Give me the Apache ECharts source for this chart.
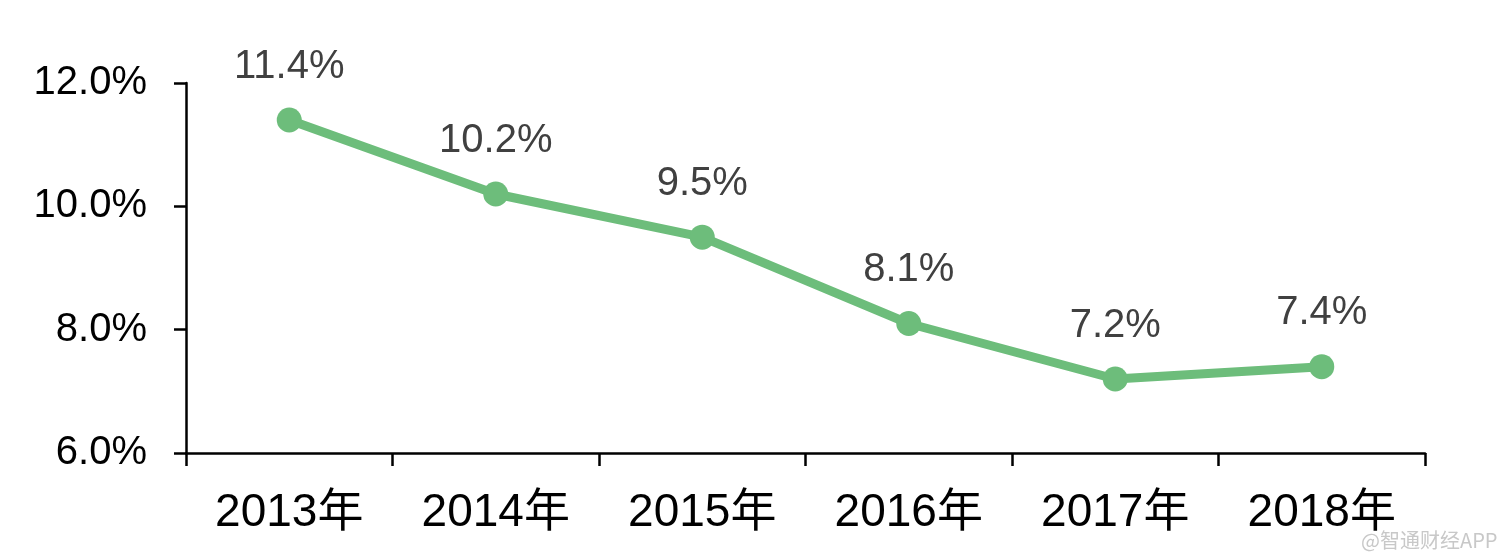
<!DOCTYPE html>
<html>
<head>
<meta charset="utf-8">
<script src="https://cdn.jsdelivr.net/npm/echarts@6/dist/echarts.min.js"></script>
<style>
html,body{margin:0;padding:0;background:#fff;}
#chart{width:1510px;height:559px;}
</style>
</head>
<body>
<div id="chart"></div>
<script>
const categories = ['2013年','2014年','2015年','2016年','2017年','2018年'];
const values = [11.4, 10.2, 9.5, 8.1, 7.2, 7.4];
const yTicks = [6, 8, 10, 12];
const watermark = '@智通财经APP';

const FONT = '"Liberation Sans", Arial, "Noto Sans CJK SC", sans-serif';
const chart = echarts.init(document.getElementById('chart'), null, {renderer: 'canvas'});
chart.setOption({
  animation: false,
  backgroundColor: '#ffffff',
  grid: {left: 186, right: 85, top: 83, bottom: 106, containLabel: false},
  xAxis: {
    type: 'category',
    data: categories,
    boundaryGap: true,
    axisLine: {lineStyle: {color: '#000', width: 2.5}},
    axisTick: {show: true, length: 13, lineStyle: {color: '#000', width: 2.5}},
    axisLabel: {color: '#000', fontSize: 46, fontFamily: FONT, margin: 37}
  },
  yAxis: {
    type: 'value',
    min: yTicks[0],
    max: yTicks[yTicks.length - 1],
    interval: 2,
    axisLine: {show: true, lineStyle: {color: '#000', width: 2.5}},
    axisTick: {show: true, length: 12, lineStyle: {color: '#000', width: 2.5}},
    splitLine: {show: false},
    axisLabel: {color: '#000', fontSize: 40, fontFamily: FONT, margin: 39,
      formatter: v => v.toFixed(1) + '%'}
  },
  series: [{
    type: 'line',
    data: values,
    symbol: 'circle',
    symbolSize: 25,
    lineStyle: {color: '#6dbd7b', width: 9},
    itemStyle: {color: '#6dbd7b'},
    label: {show: true, position: 'top', distance: 21, color: '#404040',
      fontSize: 40, fontFamily: FONT, formatter: p => p.value.toFixed(1) + '%'}
  }],
  graphic: [{
    type: 'text', right: 12, bottom: 8,
    style: {text: watermark, fill: '#c8c8c8', fontSize: 20, fontFamily: '"Noto Sans CJK SC", sans-serif',
      stroke: '#fff', lineWidth: 1}
  }]
});
</script>
</body>
</html>
